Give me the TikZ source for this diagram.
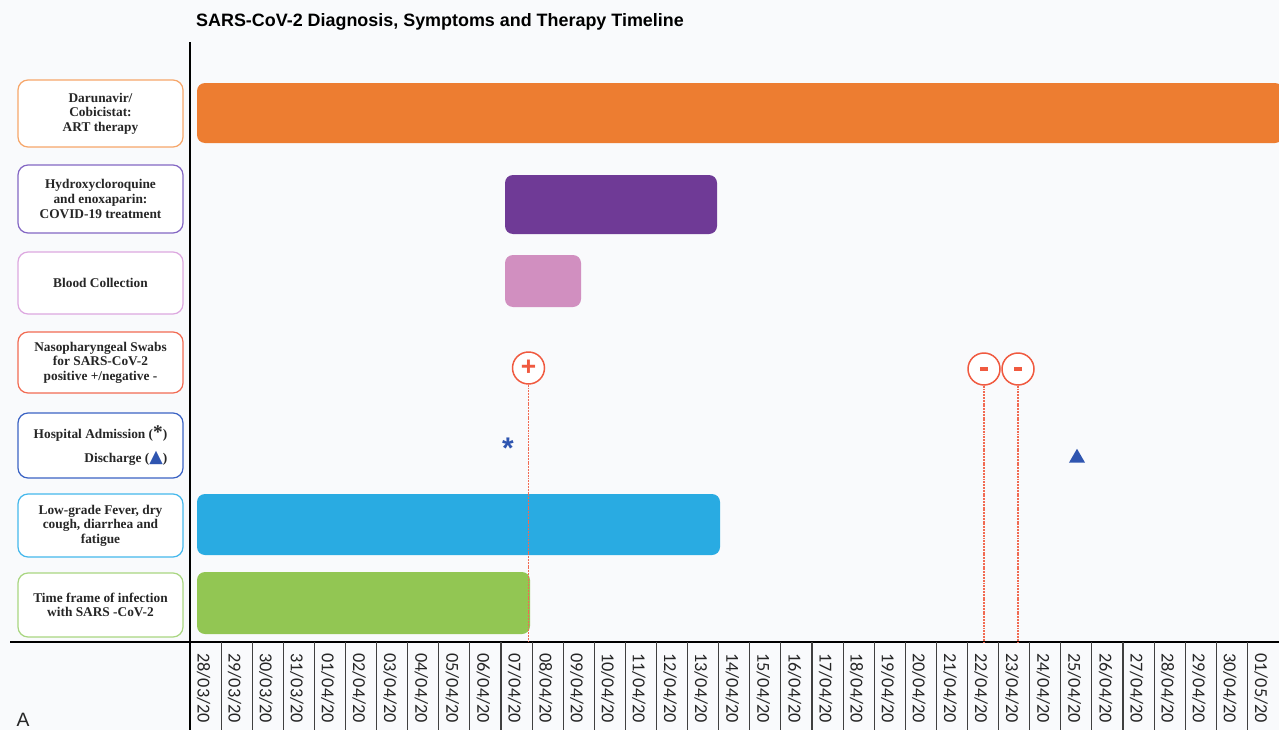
\documentclass[tikz,border=0pt]{standalone}
\usepackage{fontspec}
\setmainfont{Liberation Serif}
\newfontfamily\titlefont{Liberation Sans}
\newfontfamily\datefont{Carlito}
\newfontfamily\symfont{DejaVu Sans}
\usepackage{tikz}
\usetikzlibrary{shapes.geometric}

\definecolor{pagebg}{HTML}{F9FAFC}
\definecolor{artorange}{HTML}{ED7D31}
\definecolor{artline}{HTML}{F6A66A}
\definecolor{hcqpurple}{HTML}{6F3A96}
\definecolor{hcqline}{HTML}{8467C4}
\definecolor{bloodpink}{HTML}{D18FC0}
\definecolor{bloodline}{HTML}{DDA8E0}
\definecolor{swabred}{HTML}{F05A40}
\definecolor{hospblue}{HTML}{2F55B0}
\definecolor{hospline}{HTML}{3B63C4}
\definecolor{sympblue}{HTML}{29ABE2}
\definecolor{sympline}{HTML}{45B8EC}
\definecolor{infgreen}{HTML}{92C653}
\definecolor{infline}{HTML}{A9D681}

\begin{document}
\begin{tikzpicture}[x=0.02cm,y=-0.02cm,
  lbl/.style n args={2}{draw=#1,fill=white,line width=0.7pt,rounded corners=0.2cm,
    minimum width=3.3cm,minimum height=#2,align=center,inner sep=0pt,text=black!85,
    font=\fontsize{7.6}{8.3}\selectfont\bfseries},
  bar/.style={fill=#1,rounded corners=0.16cm},
  swab/.style={circle,draw=swabred,fill=white,line width=0.85pt,minimum size=0.64cm,
    inner sep=0pt,text=swabred,font=\titlefont\bfseries\fontsize{15}{15}\selectfont},
  swabline/.style={swabred!90,line width=1.1pt,dash pattern=on 1.1pt off 0.5pt},
  dateday/.style={rotate=-90,anchor=west,inner sep=0pt,text=black!85,
    font=\datefont\fontsize{10.4}{10.4}\selectfont},
  colsep/.style={black!75,line width=0.6pt}]

 \fill[pagebg] (0,0) rectangle (1279,730);
 \useasboundingbox (0,0) rectangle (1279,730);

 \draw (440,22) node (title) {\titlefont\bfseries\fontsize{10.2}{12}\selectfont SARS-CoV-2 Diagnosis, Symptoms and Therapy Timeline};

% labels on the left
 \draw (100.5,113.5) node[lbl={artline}{1.34cm}] (art) {Darunavir/\\Cobicistat:\\ART therapy};
 \draw (100.5,199) node[lbl={hcqline}{1.36cm}] (hcq) {Hydroxycloroquine\\and enoxaparin:\\COVID-19 treatment};
 \draw (100.5,283) node[lbl={bloodline}{1.24cm}] (blood) {Blood Collection};
 \draw (100.5,362.5) node[lbl={swabred!90}{1.22cm}] (swabs) {Nasopharyngeal Swabs\\for SARS-CoV-2\\positive +/negative -};
 \draw (100.5,445.5) node[lbl={hospline}{1.3cm},align=right] (hosp) {Hospital Admission ({\fontsize{11}{11}\selectfont *})\\[5pt]Discharge ({\symfont\fontsize{10}{10}\selectfont\textcolor{hospblue}{▲}})};
 \draw (100.5,525.5) node[lbl={sympline}{1.26cm}] (symp) {Low-grade Fever, dry\\cough, diarrhea and\\fatigue};
 \draw (100.5,605) node[lbl={infline}{1.28cm}] (inf) {Time frame of infection\\with SARS -CoV-2};

% bars
 \fill[bar=artorange] (197,83) rectangle (1283,143);
 \fill[bar=hcqpurple] (505,175) rectangle (717,234);
 \fill[bar=bloodpink] (505,255) rectangle (581,307);
 \fill[bar=sympblue] (197,494) rectangle (720,555);
 \fill[bar=infgreen] (197,572) rectangle (530,634);

% axes and day columns
 \draw[line width=1.3pt] (190,42) -- (190,730);
 \draw[line width=1.3pt] (10,642) -- (1279,642);
 \foreach \k in {1,...,34} \draw[colsep] ({190+31.1*\k},642) -- ({190+31.1*\k},730);
 \foreach \dd/\mm [count=\i from 0] in {28/03,29/03,30/03,31/03,01/04,02/04,03/04,04/04,05/04,06/04,07/04,08/04,09/04,10/04,11/04,12/04,13/04,14/04,15/04,16/04,17/04,18/04,19/04,20/04,21/04,22/04,23/04,24/04,25/04,26/04,27/04,28/04,29/04,30/04,01/05}
   \draw ({190+31.1*(\i+0.5)-2},653) node[dateday] (day\i) {\dd/\mm/20};

% swabs, admission and discharge
 \draw (528.5,368) node[swab] (pos) {\raisebox{-1.2pt}{+}};
 \draw (984,369) node[swab] (neg1) {\rule{0.16cm}{0.07cm}};
 \draw (1018,369) node[swab] (neg2) {\rule{0.16cm}{0.07cm}};
 \coordinate (pos-end) at (528.5,642);
 \coordinate (neg1-end) at (984,642);
 \coordinate (neg2-end) at (1018,642);
     \path[swabline] (pos) edge (pos-end);
     \path[swabline] (neg1) edge (neg1-end);
     \path[swabline] (neg2) edge (neg2-end);

 \draw (508,448) node[text=hospblue,inner sep=0pt,font=\titlefont\bfseries\fontsize{17}{17}\selectfont] (admit) {*};
 \draw (1077,458) node[regular polygon,regular polygon sides=3,fill=hospblue,minimum size=0.37cm,inner sep=0pt] (discharge) {};

 \draw (23,720) node[font=\titlefont\fontsize{11}{11}\selectfont,text=black!85] (panel) {A};

\end{tikzpicture}
\end{document}
